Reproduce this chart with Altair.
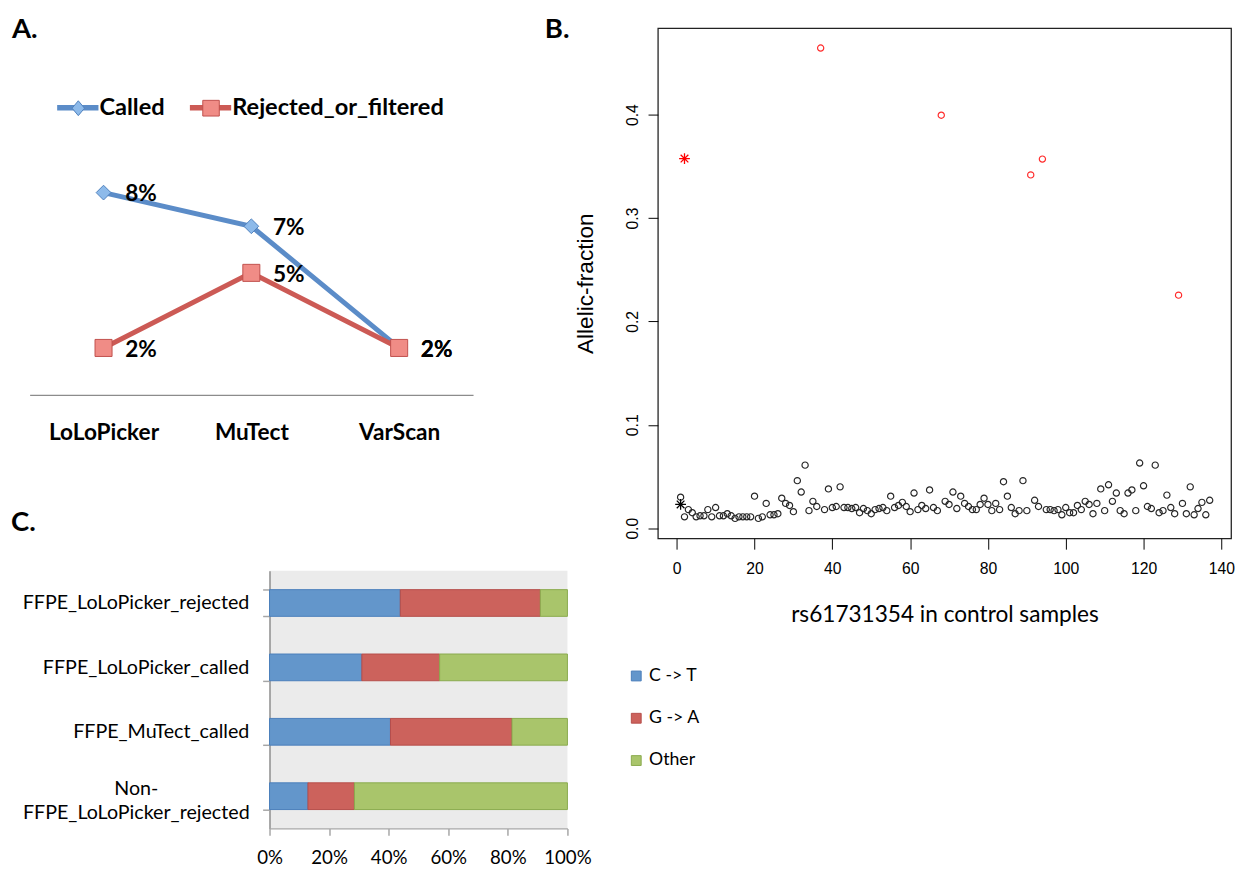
import altair as alt
import pandas as pd

FONT = "Lato"
SANS = "Liberation Sans"

# ---------------- Panel A data ----------------
tools = ["LoLoPicker", "MuTect", "VarScan"]
called_pct = [8.0, 6.7, 2.0]
rejected_pct = [2.0, 4.9, 2.0]
called_lbl = ["8%", "7%", "2%"]
rejected_lbl = ["2%", "5%", "2%"]
series_names = ["Called", "Rejected_or_filtered"]

# ---------------- Panel B data ----------------
ctrl_x = [1, 2, 3, 4, 5, 6, 7, 8, 9, 10, 11, 12, 13, 14, 15, 16, 17, 18, 19, 20,
          21, 22, 23, 24, 25, 26, 27, 28, 29, 30, 31, 32, 33, 34, 35, 36, 38, 39, 40,
          41, 42, 43, 44, 45, 46, 47, 48, 49, 50, 51, 52, 53, 54, 55, 56, 57, 58, 59, 60,
          61, 62, 63, 64, 65, 66, 67, 69, 70, 71, 72, 73, 74, 75, 76, 77, 78, 79, 80,
          81, 82, 83, 84, 85, 86, 87, 88, 89, 90, 92, 93, 95, 96, 97, 98, 99, 100,
          101, 102, 103, 104, 105, 106, 107, 108, 109, 110, 111, 112, 113, 114, 115, 116,
          117, 118, 119, 120, 121, 122, 123, 124, 125, 126, 127, 128, 130, 131, 132, 133,
          134, 135, 136, 137]
ctrl_y = [0.030, 0.011, 0.018, 0.015, 0.011, 0.012, 0.012, 0.018, 0.011, 0.020,
          0.012, 0.012, 0.014, 0.012, 0.0095, 0.011, 0.011, 0.011, 0.011, 0.031,
          0.0095, 0.011, 0.024, 0.013, 0.013, 0.014, 0.029, 0.024, 0.022, 0.016,
          0.046, 0.035, 0.061, 0.017, 0.026, 0.021, 0.018, 0.038, 0.020,
          0.021, 0.040, 0.020, 0.020, 0.019, 0.020, 0.015, 0.019, 0.017, 0.014,
          0.018, 0.019, 0.020, 0.017, 0.031, 0.020, 0.022, 0.025, 0.021, 0.016,
          0.034, 0.018, 0.022, 0.019, 0.037, 0.020, 0.017, 0.026, 0.023, 0.035,
          0.019, 0.031, 0.024, 0.021, 0.018, 0.018, 0.023, 0.029, 0.023,
          0.017, 0.024, 0.018, 0.045, 0.031, 0.020, 0.014, 0.017, 0.046, 0.017,
          0.027, 0.021, 0.018, 0.018, 0.017, 0.018, 0.013, 0.020,
          0.015, 0.015, 0.022, 0.018, 0.026, 0.023, 0.014, 0.024, 0.038, 0.017,
          0.042, 0.026, 0.034, 0.017, 0.014, 0.034,
          0.037, 0.017, 0.063, 0.041, 0.021, 0.019, 0.061, 0.015, 0.017, 0.032,
          0.020, 0.014, 0.024, 0.014, 0.040, 0.013,
          0.019, 0.025, 0.013, 0.027]
hi_x = [37, 68, 91, 94, 129]
hi_y = [0.4644, 0.3994, 0.3417, 0.3570, 0.2254]
case_star_x = [2]
case_star_y = [0.3575]
ctrl_star_x = [1]
ctrl_star_y = [0.023]
b_xticks = [0, 20, 40, 60, 80, 100, 120, 140]
b_yticks = [0.0, 0.1, 0.2, 0.3, 0.4]

# ---------------- Panel C data ----------------
c_categories = ["FFPE_LoLoPicker_rejected", "FFPE_LoLoPicker_called",
                "FFPE_MuTect_called", "Non-FFPE_LoLoPicker_rejected"]
c_types = ["C -> T", "G -> A", "Other"]
c_ct = [0.439, 0.310, 0.406, 0.129]
c_ga = [0.470, 0.261, 0.408, 0.156]
c_other = [0.091, 0.429, 0.186, 0.715]
c_xticks = [0, 0.2, 0.4, 0.6, 0.8, 1.0]

# ======================= Panel A =======================
dfA = pd.DataFrame({
    "tool": tools * 2,
    "series": [series_names[0]] * 3 + [series_names[1]] * 3,
    "pct": called_pct + rejected_pct,
    "label": called_lbl + rejected_lbl,
})
baseA = alt.Chart(dfA)
xA = alt.X("tool:N", sort=tools, scale=alt.Scale(range=[-244, 207]),
           axis=alt.Axis(title=None, domain=True, domainColor="#8c8c8c", domainWidth=1.2,
                         ticks=False, grid=False, labelFont=FONT, labelFontSize=23,
                         labelFontWeight="bold", labelColor="black", labelPadding=27,
                         labelAngle=0))
yA = alt.Y("pct:Q", scale=alt.Scale(domain=[0, 10], range=[378, 114.7], nice=False, zero=False),
           axis=None)

lineA = baseA.mark_line(strokeWidth=5).encode(
    x=xA, y=yA,
    color=alt.Color("series:N", scale=alt.Scale(domain=series_names, range=["#5b8cc8", "#cc5a55"]),
                    legend=None))
ptsCalled = baseA.transform_filter("datum.series == 'Called'").mark_point(
    shape="diamond", filled=True, size=225, fill="#8dbaea", stroke="#4f81bd",
    strokeWidth=1, opacity=1).encode(x=xA, y=yA)
ptsRej = baseA.transform_filter("datum.series == 'Rejected_or_filtered'").mark_point(
    shape="square", filled=True, size=300, fill="#f08c86", stroke="#c0504d",
    strokeWidth=1, opacity=1).encode(x=xA, y=yA)
txtA = baseA.mark_text(align="left", baseline="middle", dx=22, dy=2, font=FONT, fontSize=23,
                       fontWeight="bold", color="black").encode(x=xA, y=yA, text="label:N")


def legend_layer(name, path, fill, stroke, sw, lx, show_label):
    return baseA.transform_filter("false").mark_point(
        filled=True, color=fill, fill=fill, stroke=stroke, strokeWidth=sw, opacity=1).encode(
        shape=alt.Shape("series:N", scale=alt.Scale(domain=[name], range=[path]),
                        legend=alt.Legend(title=None, orient="none", legendX=lx, legendY=60,
                                          symbolSize=1764, symbolOpacity=1, padding=0,
                                          symbolStrokeWidth=sw, labelFont=FONT, labelFontSize=24,
                                          labelFontWeight="bold", labelColor="black",
                                          labelOpacity=1 if show_label else 0, labelOffset=1,
                                          labelLimit=400)))


bar_path = "M-1,-0.135L1,-0.135L1,0.135L-1,0.135Z"
diamond_path = "M0,-0.36L0.3,0L0,0.36L-0.3,0Z"
square_path = "M-0.4,-0.38L0.4,-0.38L0.4,0.38L-0.4,0.38Z"
L1 = legend_layer("Called", bar_path, "#5b8cc8", "#5b8cc8", 0, -216, True)
L2 = legend_layer("Called", diamond_path, "#8dbaea", "#4f81bd", 1, -216, False)
L3 = legend_layer("Rejected_or_filtered", bar_path, "#cc5a55", "#cc5a55", 0, -81, True)
L4 = legend_layer("Rejected_or_filtered", square_path, "#f08c86", "#c0504d", 1, -81, False)

panelA = alt.layer(lineA, ptsCalled, ptsRej, txtA, L1, L2, L3, L4).resolve_scale(
    shape="independent").properties(
    width=303, height=373,
    view=alt.ViewBackground(stroke=None),
    title=alt.TitleParams(text="A.", anchor="start", frame="group", orient="top", offset=0,
                          dx=-262, dy=38, baseline="alphabetic", font=FONT, fontSize=28,
                          fontWeight="bold", color="black"))

# ======================= Panel B =======================
dfB = pd.DataFrame({"x": ctrl_x, "y": ctrl_y})
dfHi = pd.DataFrame({"x": hi_x, "y": hi_y})
dfCase = pd.DataFrame({"x": case_star_x, "y": case_star_y})
dfCtrlStar = pd.DataFrame({"x": ctrl_star_x, "y": ctrl_star_y})

xB = alt.X("x:Q", scale=alt.Scale(domain=[-4.84, 142.5], nice=False, zero=False),
           axis=alt.Axis(values=b_xticks, title="rs61731354 in control samples", domain=False,
                         grid=False, tickColor="black", tickSize=11, tickWidth=1,
                         labelFont=SANS, labelFontSize=16, labelColor="black", labelPadding=12,
                         labelFlush=False, titleFont=FONT, titleFontSize=23,
                         titleFontWeight="normal", titleColor="black", titlePadding=28))
yB = alt.Y("y:Q", scale=alt.Scale(domain=[-0.0098, 0.4837], nice=False, zero=False),
           axis=alt.Axis(values=b_yticks, format=".1f", title="Allelic-fraction", domain=False,
                         grid=False, tickColor="black", tickSize=10, tickWidth=1,
                         labelAngle=270, labelAlign="center", labelBaseline="bottom",
                         labelFont=SANS, labelFontSize=16, labelColor="black", labelPadding=8,
                         labelFlush=False, titleFont=SANS, titleFontSize=23,
                         titleFontWeight="normal", titleColor="black", titlePadding=27))

star_path = "M-1,0L1,0M0,-1L0,1M-0.71,-0.71L0.71,0.71M-0.71,0.71L0.71,-0.71"
ptsB = alt.Chart(dfB).mark_point(shape="circle", filled=False, size=40, color="#262626",
                                 strokeWidth=1.2, opacity=1).encode(x=xB, y=yB)
ptsHi = alt.Chart(dfHi).mark_point(shape="circle", filled=False, size=40, color="#ff2a2a",
                                   strokeWidth=1.2, opacity=1).encode(x=xB, y=yB)
starCase = alt.Chart(dfCase).mark_point(shape=star_path, filled=False, size=121, color="#ff0000",
                                        strokeWidth=1.3, opacity=1).encode(x=xB, y=yB)
starCtrl = alt.Chart(dfCtrlStar).mark_point(shape=star_path, filled=False, size=121,
                                            color="#000000", strokeWidth=1.3,
                                            opacity=1).encode(x=xB, y=yB)

panelB = alt.layer(ptsB, ptsHi, starCase, starCtrl).properties(
    width=583, height=519,
    view=alt.ViewBackground(stroke="#222222", strokeWidth=1.3, fill="white"),
    title=alt.TitleParams(text="B.", anchor="start", frame="group", orient="top", offset=0,
                          dx=-115, dy=38, baseline="alphabetic", font=FONT, fontSize=28,
                          fontWeight="bold", color="black"))

# ======================= Panel C =======================
rows = []
for i, cat in enumerate(c_categories):
    for j, vals in enumerate([c_ct, c_ga, c_other]):
        rows.append({"cat": cat, "type": c_types[j], "v": vals[i], "ord": j})
dfC = pd.DataFrame(rows)

nonffpe_test = "datum.value == 'Non-FFPE_LoLoPicker_rejected'"
yC = alt.Y("cat:N", sort=c_categories,
           scale=alt.Scale(paddingInner=0.585, paddingOuter=0.2925),
           axis=alt.Axis(title=None, domainColor="#a6a6a6", domainWidth=2, tickColor="#a6a6a6",
                         tickWidth=1.5, tickSize=7, tickBand="extent", grid=False,
                         labelFont=FONT, labelFontSize=20, labelColor="black", labelLimit=400,
                         labelLineHeight=25,
                         labelExpr="datum.value == 'Non-FFPE_LoLoPicker_rejected' ? ['Non-', 'FFPE_LoLoPicker_rejected'] : datum.label",
                         labelAlign={"condition": {"test": nonffpe_test, "value": "center"},
                                     "value": "right"},
                         labelPadding={"condition": {"test": nonffpe_test, "value": 129},
                                       "value": 14},
                         labelOffset={"condition": {"test": nonffpe_test, "value": -8},
                                      "value": 0}))
xC = alt.X("v:Q", stack="zero", scale=alt.Scale(domain=[0, 1], nice=False),
           axis=alt.Axis(values=c_xticks, format=".0%", title=None, grid=False,
                         domainColor="#a6a6a6", domainWidth=1.5, tickColor="#a6a6a6",
                         tickWidth=1.5, tickSize=7, labelFont=FONT, labelFontSize=19,
                         labelColor="black", labelPadding=14, labelFlush=False))
legC = dict(title=None, orient="none", legendX=364, legendY=98, direction="vertical",
            symbolType="square", symbolSize=100, symbolStrokeWidth=1, labelFont=FONT,
            labelFontSize=18, labelColor="black", labelOffset=4, rowPadding=25, padding=0)
barsC = alt.Chart(dfC).mark_bar(strokeWidth=1, opacity=1).encode(
    x=xC, y=yC,
    color=alt.Color("type:N", sort=c_types,
                    scale=alt.Scale(domain=c_types, range=["#6396cb", "#cc625c", "#a9c56b"]),
                    legend=alt.Legend(**legC)),
    stroke=alt.Stroke("type:N", sort=c_types,
                      scale=alt.Scale(domain=c_types, range=["#4a7ebb", "#b64e49", "#8aaa4e"]),
                      legend=alt.Legend(**legC)),
    order=alt.Order("ord:Q"))

panelC = barsC.properties(
    width=303, height=262,
    view=alt.ViewBackground(stroke=None, fill="#ebebeb"),
    title=alt.TitleParams(text="C.", anchor="start", frame="group", orient="top", offset=0,
                          dx=-263, dy=-2, baseline="alphabetic", font=FONT, fontSize=28,
                          fontWeight="bold", color="black"))

chart = alt.concat(panelA, panelB, panelC, columns=2, bounds="flush",
                   spacing={"row": 33, "column": 92}).resolve_scale(
    color="independent", stroke="independent", shape="independent"
).resolve_legend(
    color="independent", stroke="independent", shape="independent"
).properties(
    padding={"left": 3, "top": 0, "right": 0, "bottom": 0}
).configure(background="white").configure_view(stroke=None)

chart.save("out.html", embed_options={"renderer": "svg", "actions": False})
